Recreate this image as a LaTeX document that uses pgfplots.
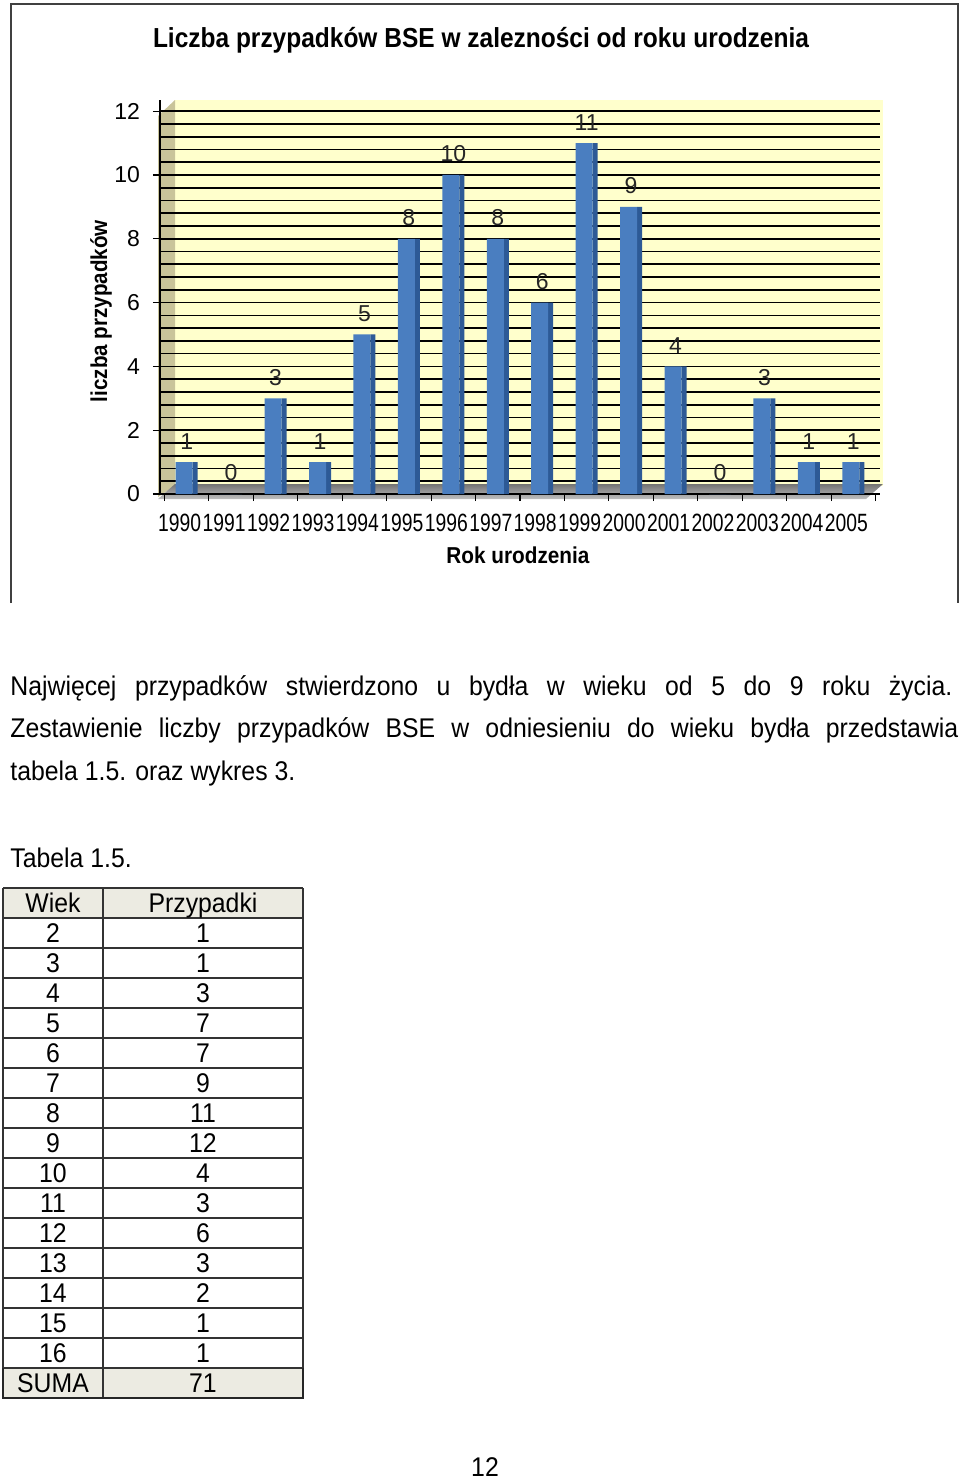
\documentclass[border=0pt]{standalone}
\usepackage{pgfplots}
\pgfplotsset{compat=1.18}
\usepackage{fontspec}
\setmainfont{Liberation Sans}
\usepackage{graphicx}
\definecolor{wall}{HTML}{FFFFCC}
\definecolor{lwall}{HTML}{C9C49A}
\definecolor{barfront}{HTML}{4A7EC0}
\definecolor{barside}{HTML}{2D5A96}
\definecolor{tabfill}{HTML}{ECEBE2}
\newcommand{\fs}[1]{\fontsize{#1}{#1}\selectfont}
\newcommand{\Y}[1]{\resizebox{21.5pt}{\height}{\fs{12.5}#1}}
\newcommand{\TT}[1]{\scalebox{1}[1.09]{\fs{12.4}#1}}
\begin{document}
\begin{tikzpicture}
\begin{scope}[x=0.5pt,y=-0.5pt]
\path[use as bounding box] (0,0) rectangle (960,1480);
% chart frame
\draw[line width=0.8pt, black!75] (11,603) -- (11,4) -- (958,4) -- (958,603);
% title
\node at (481,40) {\scalebox{1}[1.1]{\resizebox{328pt}{\height}{\fs{12.5}\bfseries Liczba przypadków BSE w zalezności od roku urodzenia}}};
% 3D walls
\fill[wall] (175,100) rectangle (883,486);
\fill[lwall] (158,116) -- (175,100) -- (175,486) -- (158,497) -- cycle;
\shade[top color=gray!90!black, bottom color=gray!50] (158,499) -- (175,484) -- (883,484) -- (866,499) -- cycle;
\end{scope}

\begin{axis}[
  at={(80pt,-247pt)}, anchor=south west,
  width=360pt, height=197pt, scale only axis,
  xmin=-0.6, xmax=15.6, ymin=0, ymax=12.35,
  axis x line*=bottom, axis y line*=left,
  axis line style={black, line width=0.6pt},
  xtick={0,...,15},
  xticklabels={\Y{1990},\Y{1991},\Y{1992},\Y{1993},\Y{1994},\Y{1995},\Y{1996},\Y{1997},\Y{1998},\Y{1999},\Y{2000},\Y{2001},\Y{2002},\Y{2003},\Y{2004},\Y{2005}},
  xtick style={draw=none},
  xticklabel style={yshift=-3pt, xshift=-3.5pt},
  extra x ticks={-0.5,0.5,...,15.5},
  extra x tick labels={},
  extra x tick style={xtick style={draw=black, line width=0.6pt}},
  ytick={0,2,...,12},
  minor y tick num=4,
  ymajorgrids, yminorgrids,
  major grid style={black, line width=0.85pt},
  minor grid style={black, line width=0.85pt},
  tick align=outside,
  major tick length=3.5pt, minor tick length=0pt,
  ytick style={black, line width=0.6pt},
  yticklabel style={font=\fs{11.5}, xshift=-3pt},
  /pgf/number format/assume math mode=true,
  clip=false,
]
\addplot[ybar, fill=barside, draw=none, bar width=2.5pt, bar shift=4.25pt] coordinates {
(0,1) (1,0) (2,3) (3,1) (4,5) (5,8) (6,10) (7,8) (8,6) (9,11) (10,9) (11,4) (12,0) (13,3) (14,1) (15,1)};
\addplot[ybar, fill=barfront, draw=none, bar width=8.5pt, bar shift=-1.25pt,
  nodes near coords, nodes near coords style={font=\fs{11.5}, text=black!85, yshift=3pt}] coordinates {
(0,1) (1,0) (2,3) (3,1) (4,5) (5,8) (6,10) (7,8) (8,6) (9,11) (10,9) (11,4) (12,0) (13,3) (14,1) (15,1)};
\end{axis}

\begin{scope}[x=0.5pt,y=-0.5pt]
\node[rotate=90] at (101,311) {\resizebox{91pt}{\height}{\fs{11.5}\bfseries liczba przypadków}};
\node at (518,555) {\resizebox{71.5pt}{\height}{\fs{11.5}\bfseries Rok urodzenia}};
% body text
\node[anchor=base west, inner sep=0] at (10,695) {\TT{\makebox[471pt][s]{Najwięcej przypadków stwierdzono u bydła w wieku od 5 do 9 roku życia.}}};
\node[anchor=base west, inner sep=0] at (10,737) {\TT{\makebox[474pt][s]{Zestawienie liczby przypadków BSE w odniesieniu do wieku bydła przedstawia}}};
\node[anchor=base west, inner sep=0] at (10,780) {\TT{tabela 1.5. oraz wykres 3.}};
\node[anchor=base west, inner sep=0] at (10,867) {\TT{Tabela 1.5.}};
% table
\fill[tabfill] (3,888) rectangle (303,918);
\fill[tabfill] (3,1368) rectangle (303,1398);
\foreach \k in {0,...,17} \draw[black!80, line width=0.7pt] (3,888+30*\k) -- (303,888+30*\k);
\foreach \xx in {3,103,303} \draw[black!80, line width=0.7pt] (\xx,888) -- (\xx,1398);
\draw[black!85, line width=1.3pt] (3,1368) -- (3,1398) -- (303,1398) -- (303,1368);
\foreach \a/\b [count=\k from 0] in {Wiek/Przypadki,2/1,3/1,4/3,5/7,6/7,7/9,8/11,9/12,10/4,11/3,12/6,13/3,14/2,15/1,16/1,SUMA/71} {
  \node[anchor=base, inner sep=0] at (53,888+30*\k+24) {\TT{\a}};
  \node[anchor=base, inner sep=0] at (203,888+30*\k+24) {\TT{\b}};
}
% page number
\node[anchor=base, inner sep=0] at (485,1476) {\TT{12}};
\end{scope}
\end{tikzpicture}
\end{document}
